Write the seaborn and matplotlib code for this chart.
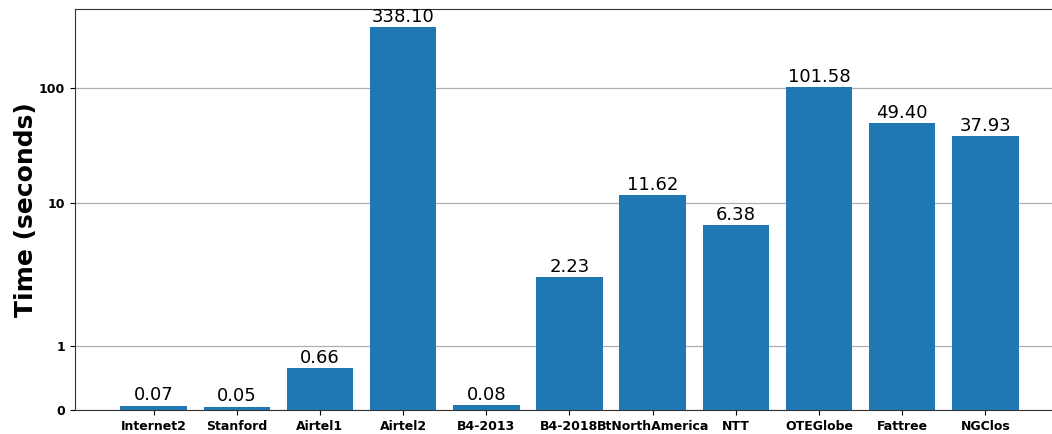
import numpy as np
import pandas as pd
import seaborn as sns
from matplotlib import pyplot as plt
from matplotlib.ticker import NullLocator

# data
networks = ['Internet2', 'Stanford', 'Airtel1', 'Airtel2', 'B4-2013', 'B4-2018',
            'BtNorthAmerica', 'NTT', 'OTEGlobe', 'Fattree', 'NGClos']
times = [0.07, 0.05, 0.66, 338.10, 0.08, 2.23, 11.62, 6.38, 101.58, 49.40, 37.93]
ytick_vals = [0, 1, 10, 100]

df = pd.DataFrame({'network': networks, 'time': times})

fig = plt.figure(figsize=(10.52, 4.34), dpi=100)
ax = fig.add_axes([0.0713, 0.0553, 0.94, 0.924])

sns.barplot(data=df, x='network', y='time', color='#1f77b4', saturation=1,
            width=0.8, ax=ax, zorder=3)
ax.set_yscale('symlog', linthresh=2)
ax.set_ylim(0, 490)
ax.set_xlim(-0.945, 10.945)

ax.set_yticks(ytick_vals)
ax.set_yticklabels([str(v) for v in ytick_vals], fontweight='bold', fontsize=9)
ax.yaxis.set_minor_locator(NullLocator())
ax.set_xticks(range(len(networks)))
ax.set_xticklabels(networks, fontweight='bold', fontsize=9)

ax.grid(axis='y', color='#b0b0b0', linewidth=0.9, zorder=0)
ax.set_axisbelow(True)
ax.bar_label(ax.containers[0], fmt='%.2f', fontsize=13, padding=1)

ax.set_xlabel('')
ax.set_ylabel('Time (seconds)', fontsize=18, fontweight='bold', labelpad=1)
for s in ax.spines.values():
    s.set_color('#333333')
ax.spines['right'].set_visible(False)

fig.savefig('out.png', dpi=100)
